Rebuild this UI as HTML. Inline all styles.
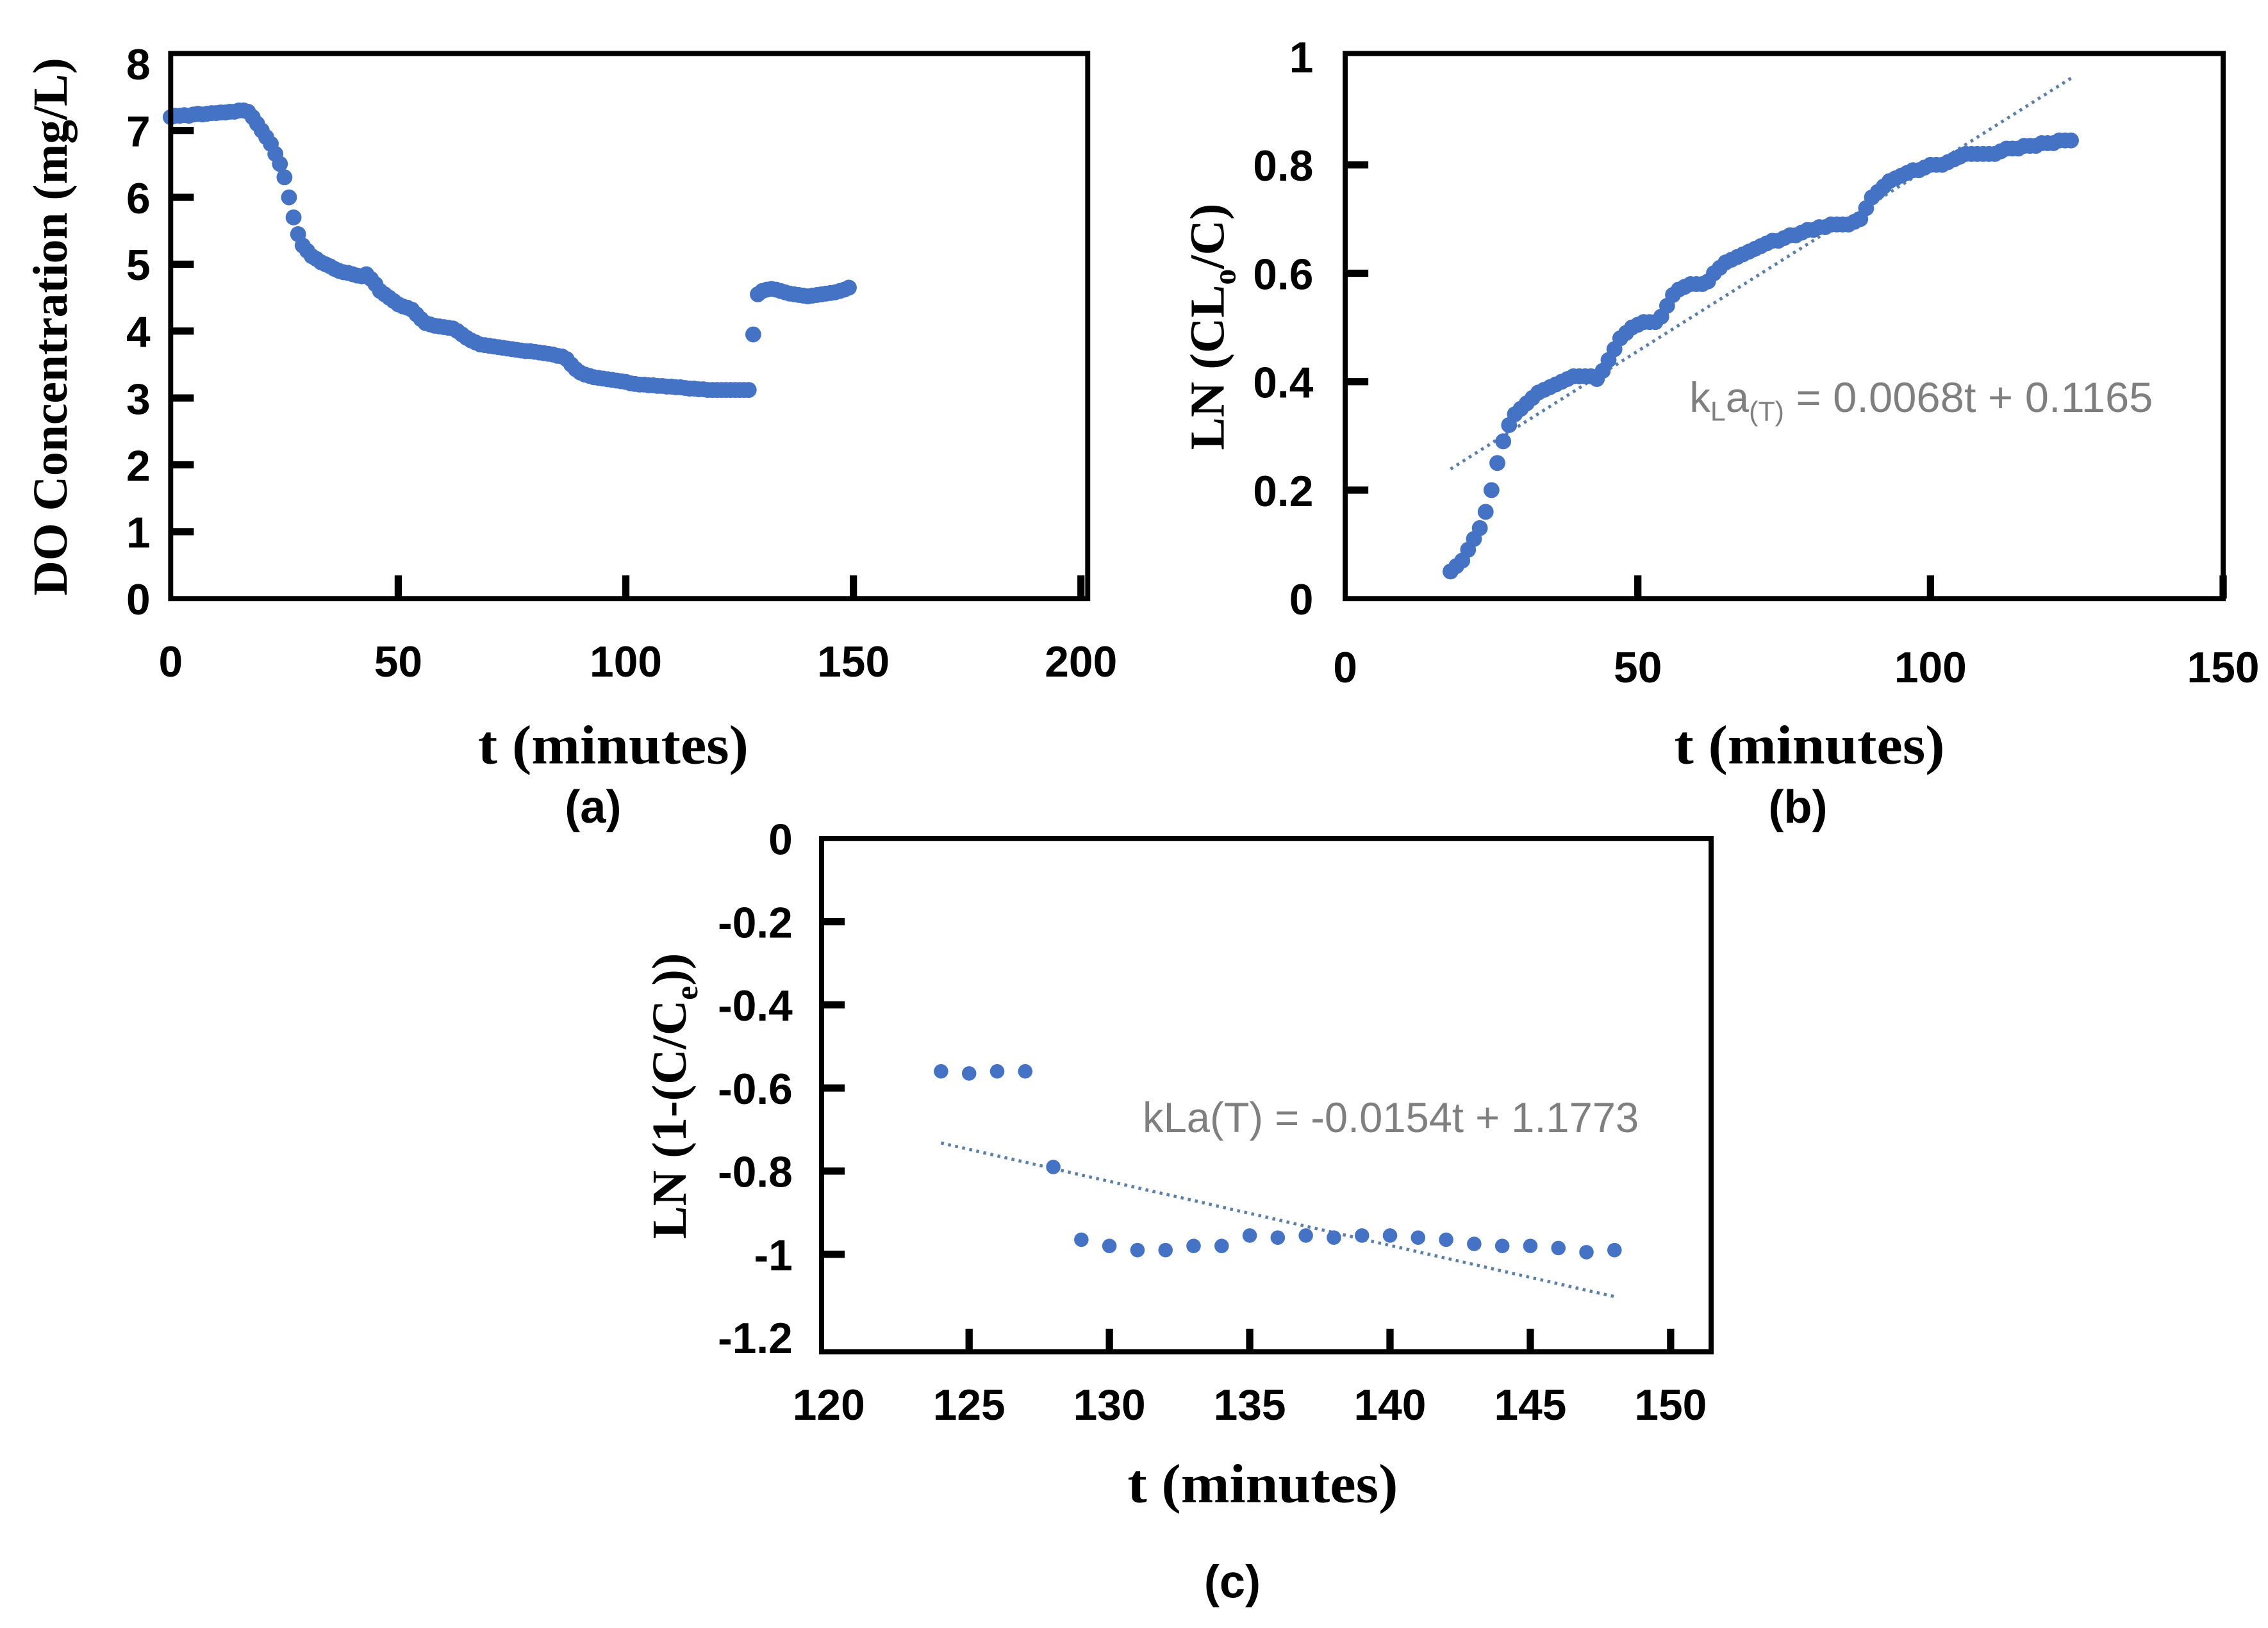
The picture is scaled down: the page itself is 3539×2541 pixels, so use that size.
<!DOCTYPE html>
<html><head><meta charset="utf-8"><style>
html,body{margin:0;padding:0;background:#fff;}
svg{display:block;}
.tick{font-family:"Liberation Sans",sans-serif;font-weight:bold;font-size:30px;fill:#000;}
.title{font-family:"Liberation Serif",serif;font-weight:bold;font-size:34px;fill:#000;}
.xt{font-family:"Liberation Serif",serif;font-weight:bold;font-size:38px;fill:#000;}
.cap{font-family:"Liberation Sans",sans-serif;font-weight:bold;font-size:32px;fill:#000;}
.eq{font-family:"Liberation Sans",sans-serif;font-size:29px;fill:#7f7f7f;}
</style></head><body>
<svg id="fig" width="3539" height="2541" viewBox="0 0 1568 1126" preserveAspectRatio="none" xmlns="http://www.w3.org/2000/svg">
<g id="pa"></g>
<g id="pb"></g>
<g id="pc"></g>
<text class="title" transform="translate(46,226) rotate(-90)" text-anchor="middle" textLength="372" lengthAdjust="spacingAndGlyphs">DO Concentration (mg/L)</text>
<text class="xt" x="424" y="528" text-anchor="middle" textLength="187" lengthAdjust="spacingAndGlyphs">t (minutes)</text>
<text class="cap" x="410" y="569" text-anchor="middle">(a)</text>
<text class="title" transform="translate(846,226) rotate(-90)" text-anchor="middle">LN (CL<tspan font-size="22" dy="8">o</tspan><tspan dy="-8">/C)</tspan></text>
<text class="xt" x="1251" y="528" text-anchor="middle" textLength="187" lengthAdjust="spacingAndGlyphs">t (minutes)</text>
<text class="cap" x="1243" y="569" text-anchor="middle">(b)</text>
<text class="eq" x="1168" y="285">k<tspan font-size="19" dy="6">L</tspan><tspan dy="-6">a</tspan><tspan font-size="19" dy="6">(T)</tspan><tspan dy="-6" textLength="255" lengthAdjust="spacingAndGlyphs"> = 0.0068t + 0.1165</tspan></text>
<text class="title" transform="translate(474,758) rotate(-90)" text-anchor="middle">LN (1-(C/C<tspan font-size="22" dy="8">e</tspan><tspan dy="-8">))</tspan></text>
<text class="xt" x="873" y="1039" text-anchor="middle" textLength="187" lengthAdjust="spacingAndGlyphs">t (minutes)</text>
<text class="cap" x="852" y="1105" text-anchor="middle">(c)</text>
<text class="eq" x="790" y="783" textLength="343" lengthAdjust="spacingAndGlyphs">kLa(T) = -0.0154t + 1.1773</text>
</svg>
<script>
// Panel a data
const aStartT = 0;
const aValues = [7.2,7.22,7.22,7.23,7.22,7.24,7.25,7.24,7.25,7.26,
7.26,7.27,7.27,7.28,7.28,7.3,7.3,7.28,7.2,7.1,
7.0,6.9,6.8,6.65,6.5,6.3,6.0,5.7,5.45,5.28,
5.2,5.12,5.08,5.03,5.0,4.97,4.93,4.9,4.88,4.87,
4.85,4.83,4.82,4.85,4.78,4.7,4.6,4.55,4.5,4.45,
4.4,4.37,4.35,4.32,4.25,4.18,4.12,4.1,4.08,4.07,
4.06,4.05,4.04,4.0,3.95,3.9,3.86,3.83,3.8,3.79,
3.78,3.77,3.76,3.75,3.74,3.73,3.72,3.71,3.7,3.7,
3.69,3.68,3.67,3.66,3.65,3.63,3.62,3.58,3.5,3.43,
3.38,3.35,3.33,3.31,3.3,3.29,3.28,3.27,3.26,3.25,
3.24,3.22,3.21,3.2,3.2,3.19,3.19,3.18,3.18,3.17,
3.17,3.16,3.16,3.15,3.14,3.14,3.13,3.13,3.12,3.12,
3.12,3.12,3.12,3.12,3.12,3.12,3.12,3.12,
3.95,
4.55,4.6,4.62,4.63,4.62,4.6,4.58,4.56,4.55,4.54,4.53,4.52,4.53,4.54,4.55,4.56,4.57,4.58,4.6,4.62,4.65];
const aXTicks = [0,50,100,150,200];
const aYTicks = [0,1,2,3,4,5,6,7,8];
// Panel b data
const bStartT = 18;
const bValues = [0.05,0.06,0.07,0.09,0.11,0.13,0.16,0.2,0.25,0.29,
0.32,0.34,0.35,0.36,0.37,0.38,0.385,0.39,0.395,0.40,
0.405,0.41,0.41,0.41,0.41,0.405,0.42,0.44,0.46,0.48,
0.49,0.50,0.505,0.51,0.51,0.51,0.52,0.54,0.56,0.57,
0.575,0.58,0.58,0.58,0.585,0.60,0.61,0.62,0.625,0.63,
0.635,0.64,0.645,0.65,0.655,0.66,0.66,0.665,0.67,0.67,
0.675,0.68,0.68,0.685,0.685,0.69,0.69,0.69,0.69,0.695,
0.70,0.72,0.74,0.75,0.76,0.77,0.775,0.78,0.785,0.79,
0.79,0.795,0.80,0.80,0.80,0.805,0.81,0.815,0.82,0.82,
0.82,0.82,0.82,0.82,0.825,0.83,0.83,0.83,0.835,0.835,
0.835,0.84,0.84,0.84,0.845,0.845,0.845];
const bTrend = [0.0068, 0.1165];
const bXTicks = [0,50,100,150];
const bYTicks = [0,0.2,0.4,0.6,0.8,1];
const bYLabels = ["0","0.2","0.4","0.6","0.8","1"];
// Panel c data
const cTimes = [124,125,126,127,128,129,130,131,132,133,134,135,136,137,138,139,140,141,142,143,144,145,146,147,148];
const cValues = [-0.56,-0.565,-0.56,-0.56,-0.79,-0.965,-0.98,-0.99,-0.99,-0.98,-0.98,-0.955,-0.96,-0.955,-0.96,-0.955,-0.955,-0.96,-0.965,-0.975,-0.98,-0.98,-0.985,-0.995,-0.99];
const cTrend = [-0.0154, 1.1773];
const cXTicks = [120,125,130,135,140,145,150];
const cYTicks = [0,-0.2,-0.4,-0.6,-0.8,-1,-1.2];
const cYLabels = ["0","-0.2","-0.4","-0.6","-0.8","-1","-1.2"];

const NS="http://www.w3.org/2000/svg";
function mk(parent,tag,attrs){const e=document.createElementNS(NS,tag);for(const k in attrs)e.setAttribute(k,attrs[k]);parent.appendChild(e);return e;}
function lin(d0,d1,r0,r1){return v=>r0+(v-d0)*(r1-r0)/(d1-d0);}

function frame(g,box,prefix){
  const r=mk(g,'rect',{x:box.l,y:box.t,width:box.r-box.l,height:box.b-box.t,fill:'none',stroke:'#000','stroke-width':3.5});
  
  
}
function xticks(g,ticks,labels,sx,box,ly,drawMarks,prefix){
  ticks.forEach((t,i)=>{
    const x=sx(t);
    if(drawMarks(t)){
      const m=mk(g,'line',{x1:x,x2:x,y1:box.b,y2:box.b-16,stroke:'#000','stroke-width':5});
      
      
    }
    const tx=mk(g,'text',{x:x,y:ly,'text-anchor':'middle',class:'tick'});
    tx.textContent=labels?labels[i]:String(t);
    
    
  });
}
function yticks(g,ticks,labels,sy,box,lx,drawMarks,prefix){
  ticks.forEach((t,i)=>{
    const y=sy(t);
    if(drawMarks(t)){
      const m=mk(g,'line',{x1:box.l,x2:box.l+16,y1:y,y2:y,stroke:'#000','stroke-width':5});
      
      
    }
    const tx=mk(g,'text',{x:lx,y:y+11,'text-anchor':'end',class:'tick'});
    tx.textContent=labels?labels[i]:String(t);
    
    
  });
}
function dot(g,x,y,r,name){
  const c=mk(g,'circle',{cx:x,cy:y,r:r,fill:'#4472c4'});
  
  
}

// Panel a
(function(){
  const g=document.getElementById('pa');
  const box={l:118,r:752,t:37,b:414};
  const sx=lin(0,150,118,590), sy=lin(0,8,414,44);
  aValues.forEach((v,i)=>dot(g,sx(aStartT+i),sy(v),5.5,'panel-a-data-point'));
  frame(g,box,'panel-a');
  xticks(g,aXTicks,null,sx,box,468,t=>t>0,'panel-a');
  yticks(g,aYTicks,null,sy,box,104,t=>t>0&&t<8,'panel-a');
})();
// Panel b
(function(){
  const g=document.getElementById('pb');
  const box={l:930,r:1537,t:37,b:414};
  const sx=lin(0,150,930,1537), sy=lin(0,1,414,39);
  const t0=bStartT, t1=bStartT+bValues.length-1;
  const tl=mk(g,'line',{x1:sx(t0),y1:sy(bTrend[0]*t0+bTrend[1]),x2:sx(t1),y2:sy(bTrend[0]*t1+bTrend[1]),stroke:'#5a7fa8','stroke-width':2.2,'stroke-dasharray':'2 3'});
  
  
  bValues.forEach((v,i)=>dot(g,sx(bStartT+i),sy(v),5.5,'panel-b-data-point'));
  frame(g,box,'panel-b');
  xticks(g,bXTicks,null,sx,box,472,t=>t>0,'panel-b');
  yticks(g,bYTicks,bYLabels,sy,box,908,t=>t>0&&t<1,'panel-b');
})();
// Panel c
(function(){
  const g=document.getElementById('pc');
  const box={l:568,r:1183,t:580,b:935};
  const sx=lin(120,150,573,1155), sy=lin(0,-1.2,580,925);
  const t0=cTimes[0], t1=cTimes[cTimes.length-1];
  const tl=mk(g,'line',{x1:sx(t0),y1:sy(cTrend[0]*t0+cTrend[1]),x2:sx(t1),y2:sy(cTrend[0]*t1+cTrend[1]),stroke:'#5a7fa8','stroke-width':2.2,'stroke-dasharray':'2 3'});
  
  
  cTimes.forEach((t,i)=>dot(g,sx(t),sy(cValues[i]),5,'panel-c-data-point'));
  frame(g,box,'panel-c');
  xticks(g,cXTicks,null,sx,box,982,t=>t>120,'panel-c');
  yticks(g,cYTicks,cYLabels,sy,box,548,t=>t<0&&t>-1.2,'panel-c');
})();
</script>
</body></html>
